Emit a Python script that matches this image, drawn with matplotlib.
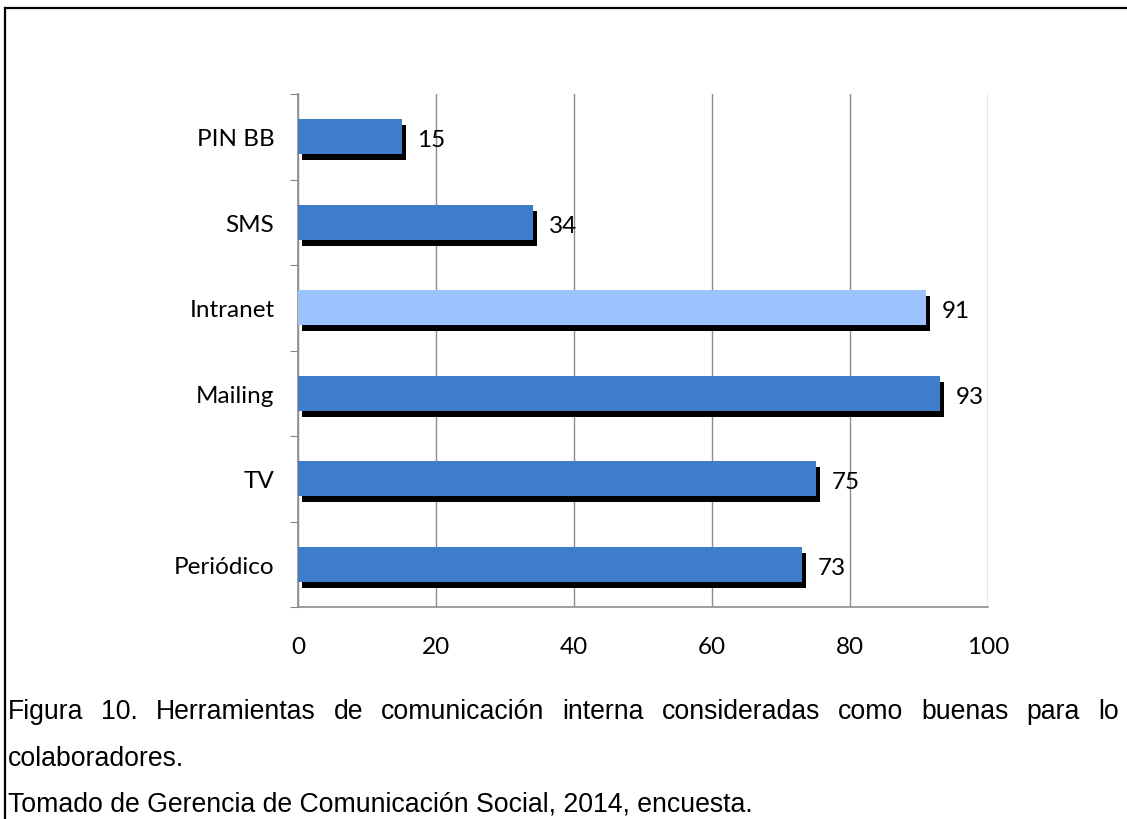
import matplotlib
matplotlib.use("Agg")
import matplotlib.pyplot as plt
import matplotlib.patheffects as pe
from matplotlib.lines import Line2D

# survey results: internal communication tools rated as good
categories = ["Periódico", "TV", "Mailing", "Intranet", "SMS", "PIN BB"]
values = [73, 75, 93, 91, 34, 15]
bar_colors = ["#3D7DCA", "#3D7DCA", "#3D7DCA", "#9DC3FF", "#3D7DCA", "#3D7DCA"]
x_ticks = [0, 20, 40, 60, 80, 100]

caption_line1 = "Figura 10. Herramientas de comunicación interna consideradas como buenas para lo"
caption_line2 = "colaboradores."
caption_line3 = "Tomado de Gerencia de Comunicación Social, 2014, encuesta."

W, H = 1127, 820
fig = plt.figure(figsize=(W / 100, H / 100), dpi=100)
ax = fig.add_axes([298 / W, 1 - 608 / H, 690 / W, 513 / H])

ypos = list(range(len(categories)))
bars = ax.barh(ypos, values, height=0.41, color=bar_colors, zorder=3)
for b in bars:
    b.set_path_effects([pe.SimplePatchShadow(offset=(3, -4.3), shadow_rgbFace="black", alpha=1.0),
                        pe.Normal()])

label_font = "Lato"
fs = 17.5
for y, v in zip(ypos, values):
    ax.annotate(str(v), (v, y), xytext=(11.5, -2), textcoords="offset points",
                va="center", ha="left", fontsize=fs, family=label_font)

ax.set_xlim(0, 100)
ax.set_ylim(-0.5, len(categories) - 0.5)
ax.set_xticks(x_ticks)
ax.set_xticklabels([str(t) for t in x_ticks], fontsize=fs, family=label_font)
ax.set_yticks([i - 0.5 for i in range(len(categories) + 1)], minor=False)
ax.set_yticklabels([])
ax.set_yticks(ypos, minor=True)
ax.set_yticklabels(categories, minor=True, fontsize=fs, family=label_font)
ax.tick_params(axis="y", which="major", length=6, color="#888888", direction="out")
ax.tick_params(axis="y", which="minor", length=0, pad=17)
ax.tick_params(axis="x", length=0, pad=21)

ax.grid(axis="x", color="#8C8C8C", linewidth=1.0, zorder=0)
for s in ["top", "right"]:
    ax.spines[s].set_visible(False)
for s in ["left", "bottom"]:
    ax.spines[s].set_color("#8C8C8C")
    ax.spines[s].set_linewidth(1.2)

# page frame: left and top border
fig.add_artist(Line2D([5 / W, 5 / W], [0, 1 - 9 / H], color="black", lw=1.6, transform=fig.transFigure))
fig.add_artist(Line2D([5 / W, 1], [1 - 9 / H, 1 - 9 / H], color="black", lw=1.6, transform=fig.transFigure))

# caption, first line justified across the page width
cap_font = "Liberation Sans"
cap_fs = 19.2
words = caption_line1.split()
renderer = fig.canvas.get_renderer()
texts = [fig.text(0, 1 - 719 / H, w, fontsize=cap_fs, family=cap_font, va="baseline", ha="left")
         for w in words]
widths = [t.get_window_extent(renderer).width for t in texts]
x_start, x_last = 8, 1098
gap = (x_last - x_start - sum(widths[:-1])) / (len(words) - 1)
x = x_start
for t, w in zip(texts, widths):
    t.set_x(x / W)
    x += w + gap
fig.text(8 / W, 1 - 766 / H, caption_line2, fontsize=cap_fs, family=cap_font, va="baseline", ha="left")
fig.text(8 / W, 1 - 812 / H, caption_line3, fontsize=cap_fs, family=cap_font, va="baseline", ha="left")

fig.savefig("out.png", dpi=100)
